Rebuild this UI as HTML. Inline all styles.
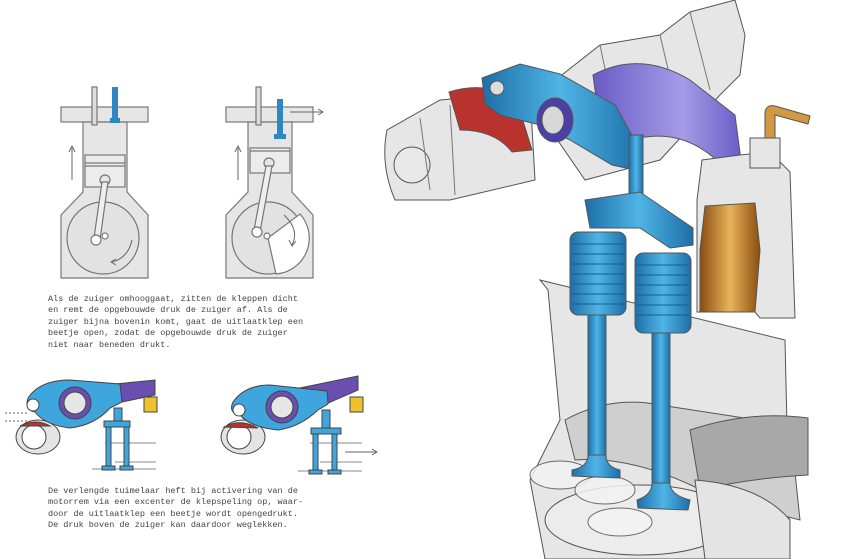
<!DOCTYPE html>
<html><head><meta charset="utf-8"><style>
html,body{margin:0;padding:0;background:#fff;}
body{width:843px;height:559px;overflow:hidden;position:relative;}
.t{position:absolute;font-family:"Liberation Mono",monospace;font-size:8.5px;line-height:11.4px;color:#444;white-space:pre;}
svg{position:absolute;left:0;top:0;}
</style></head><body>
<svg width="843" height="559" viewBox="0 0 843 559" xmlns="http://www.w3.org/2000/svg">
<defs>
<linearGradient id="bl" x1="0" x2="1"><stop offset="0" stop-color="#1d6fa8"/><stop offset=".5" stop-color="#4fb4e6"/><stop offset="1" stop-color="#1d6fa8"/></linearGradient>
<linearGradient id="gd" x1="0" x2="1"><stop offset="0" stop-color="#8a4c10"/><stop offset=".5" stop-color="#e7b45a"/><stop offset="1" stop-color="#8a4c10"/></linearGradient>
<linearGradient id="pp" x1="0" x2="1"><stop offset="0" stop-color="#6a5bc7"/><stop offset=".6" stop-color="#a59be6"/><stop offset="1" stop-color="#6a5bc7"/></linearGradient>
</defs>
<g stroke="#777" stroke-width="1.2" fill="#e6e6e6">
<rect x="61" y="107" width="87" height="15"/>
<path d="M83 122 L127 122 L127 192 L148 215 L148 278 L61 278 L61 215 L83 192 Z"/>
<circle cx="103" cy="238" r="36" fill="#e2e2e2"/>
<rect x="85" y="155" width="40" height="32" fill="#ececec"/>
<line x1="85" y1="163" x2="125" y2="163"/><line x1="85" y1="166" x2="125" y2="166"/>
<circle cx="105" cy="180" r="5"/>
<path d="M102 182 L108 182 L100 240 L94 238 Z" fill="#eee"/>
<circle cx="96" cy="240" r="5" fill="#fff"/><circle cx="105" cy="236" r="3" fill="#fff"/>
<rect x="92" y="87" width="5" height="38" fill="#ddd"/>
</g>
<rect x="112" y="87" width="6" height="33" fill="#2f86c0"/><rect x="110" y="118" width="10" height="5" fill="#2f86c0"/>
<path d="M72 180 V148 M69 152 L72 146 L75 152" stroke="#666" fill="none"/>
<path d="M132 240 Q128 258 112 262 M116 259 L111 262 L116 265" stroke="#666" fill="none"/>
<g stroke="#777" stroke-width="1.2" fill="#e6e6e6">
<rect x="226" y="107" width="87" height="15"/>
<path d="M248 122 L292 122 L292 192 L313 215 L313 278 L226 278 L226 215 L248 192 Z"/>
<circle cx="268" cy="238" r="36" fill="#e2e2e2"/>
<path d="M268 238 L300 214 A36 36 0 0 1 276 274 Z" fill="#fff"/>
<rect x="250" y="148" width="40" height="25" fill="#ececec"/>
<line x1="250" y1="151" x2="290" y2="151"/>
<circle cx="269" cy="163" r="5"/>
<path d="M266 166 L272 166 L260 232 L254 230 Z" fill="#eee"/>
<circle cx="257" cy="232" r="5" fill="#fff"/><circle cx="267" cy="236" r="3" fill="#fff"/>
<rect x="256" y="87" width="5" height="38" fill="#ddd"/>
</g>
<rect x="277" y="99" width="6" height="38" fill="#2f86c0"/><rect x="274" y="134" width="12" height="5" fill="#2f86c0"/>
<path d="M238 180 V148 M235 152 L238 146 L241 152" stroke="#666" fill="none"/>
<path d="M290 112 H322 M318 109 L323 112 L318 115" stroke="#666" fill="none"/>
<path d="M284 215 Q300 230 292 245 M289 240 L292 246 L296 241" stroke="#666" fill="none"/>

<g stroke="#444" stroke-width="1">
<path d="M105 443 H156 M115 462 H156 M92 469 H156" stroke="#888" fill="none"/>
<ellipse cx="38" cy="437" rx="22" ry="17" fill="#e4e4e4"/><circle cx="34" cy="437" r="12" fill="#fff"/>
<path d="M20 426 Q36 418 50 426 Z" fill="#b8322e"/>
<path d="M105 385 L155 380 L155 395 L122 402 Z" fill="#6b4fb0"/>
<path d="M28 398 Q40 380 70 380 L120 384 L122 402 L110 408 Q95 425 70 428 Q45 425 35 412 Q24 410 28 398 Z" fill="#3ea6dc"/>
<circle cx="33" cy="405" r="6" fill="#fff"/>
<circle cx="75" cy="403" r="16" fill="#6b4fb0"/><circle cx="75" cy="403" r="11" fill="#e6e6e6"/>
<rect x="144" y="397" width="13" height="15" fill="#eec22e"/>
<rect x="114" y="408" width="8" height="14" fill="#3ea6dc"/>
<rect x="104" y="421" width="26" height="6" fill="#3ea6dc"/>
<rect x="106" y="427" width="5" height="42" fill="#3ea6dc"/><rect x="124" y="427" width="5" height="42" fill="#3ea6dc"/>
<rect x="102" y="466" width="13" height="4" fill="#3ea6dc"/><rect x="120" y="466" width="13" height="4" fill="#3ea6dc"/>
</g>
<path d="M5 413 H28 M5 421 H28" stroke="#666" stroke-dasharray="2 2"/>
<g stroke="#444" stroke-width="1">
<path d="M310 443 H362 M320 462 H362 M298 471 H362" stroke="#888" fill="none"/>
<ellipse cx="243" cy="437" rx="22" ry="17" fill="#e4e4e4"/><circle cx="239" cy="437" r="12" fill="#fff"/>
<path d="M224 427 Q240 418 258 428 Z" fill="#b8322e"/>
<path d="M290 390 L358 376 L358 390 L326 404 Z" fill="#6b4fb0"/>
<path d="M233 402 Q245 385 270 385 L327 391 L328 404 L318 410 Q300 427 278 430 Q250 427 240 415 Q228 413 233 402 Z" fill="#3ea6dc"/>
<circle cx="239" cy="410" r="6" fill="#fff"/>
<circle cx="282" cy="407" r="16" fill="#6b4fb0"/><circle cx="282" cy="407" r="11" fill="#e6e6e6"/>
<rect x="350" y="397" width="13" height="15" fill="#eec22e"/>
<rect x="322" y="410" width="8" height="18" fill="#3ea6dc"/>
<rect x="311" y="428" width="30" height="6" fill="#3ea6dc"/>
<rect x="313" y="434" width="5" height="38" fill="#3ea6dc"/><rect x="332" y="434" width="5" height="38" fill="#3ea6dc"/>
<rect x="309" y="470" width="13" height="4" fill="#3ea6dc"/><rect x="328" y="470" width="13" height="4" fill="#3ea6dc"/>
</g>
<path d="M345 452 H376 M372 449 L377 452 L372 455" stroke="#666" fill="none"/>

<!-- right illustration -->
<g stroke="#555" stroke-width="1">
<path d="M540 280 L785 340 L790 559 L545 559 L530 480 L560 420 L548 290 Z" fill="#e6e6e6"/>
<path d="M565 420 Q610 395 660 405 L790 425 L800 520 L720 500 Q640 455 575 460 Z" fill="#cfcfcf"/>
<ellipse cx="640" cy="520" rx="95" ry="35" fill="#ececec"/>
<path d="M690 430 Q750 410 808 418 L808 475 Q750 478 700 490 Z" fill="#a8a8a8"/>
<path d="M695 480 Q760 485 790 520 L790 559 L705 559 Z" fill="#e4e4e4"/>
<ellipse cx="560" cy="475" rx="30" ry="14" fill="#f2f2f2" opacity=".85"/>
<ellipse cx="605" cy="490" rx="30" ry="14" fill="#f2f2f2" opacity=".85"/>
<ellipse cx="620" cy="522" rx="32" ry="14" fill="#f4f4f4" opacity=".85"/>
<!-- camshaft top -->
<path d="M530 100 L600 45 L660 35 L690 12 L735 0 L745 35 L740 75 L720 95 L660 160 L585 180 Z" fill="#e6e6e6"/>
<path d="M600 45 L620 140 M660 35 L680 120 M690 12 L710 90" stroke="#777" fill="none"/>
<!-- left cam cylinder -->
<path d="M387 130 L440 100 L530 92 L535 180 L450 200 L395 200 Q380 165 387 130 Z" fill="#e6e6e6"/>
<circle cx="412" cy="165" r="18" fill="#e8e8e8"/>
<path d="M420 118 L430 190 M450 105 L455 195" stroke="#777" fill="none"/>
<path d="M449 92 Q480 82 515 95 L532 150 L512 152 Q495 130 460 130 Z" fill="#b8322e"/>
<!-- purple arm -->
<path d="M593 75 Q640 50 690 80 L735 115 L742 168 L728 172 Q690 128 640 138 L603 148 Z" fill="url(#pp)"/>
<!-- blue rocker -->
<path d="M482 78 L520 64 L560 74 L615 105 L640 150 L635 170 L612 165 L570 140 L540 125 L500 115 L485 104 Z" fill="url(#bl)"/>
<circle cx="497" cy="88" r="7" fill="#ddd"/>
<ellipse cx="555" cy="120" rx="18" ry="22" fill="#4e3ea8"/><ellipse cx="553" cy="120" rx="11" ry="14" fill="#d8d8d8"/>
<rect x="629" y="135" width="14" height="65" fill="url(#bl)"/>
<!-- bridge -->
<path d="M585 200 L640 192 L693 228 L693 245 L670 248 L640 228 L590 228 Z" fill="url(#bl)"/>
<!-- springs -->
<rect x="570" y="232" width="56" height="83" rx="8" fill="url(#bl)"/>
<rect x="635" y="253" width="56" height="80" rx="8" fill="url(#bl)"/>
<g stroke="#155e90"><path d="M572 244H624M572 254H624M572 264H624M572 274H624M572 284H624M572 294H624M572 304H624M637 265H689M637 275H689M637 285H689M637 295H689M637 305H689M637 315H689"/></g>
<!-- stems -->
<rect x="588" y="315" width="18" height="145" fill="url(#bl)"/>
<rect x="652" y="333" width="18" height="155" fill="url(#bl)"/>
<path d="M588 455 Q588 467 572 470 L572 476 L620 478 L620 470 Q606 467 606 455 Z" fill="url(#bl)"/>
<path d="M652 483 Q652 495 637 500 L638 508 L688 510 L690 500 Q670 495 670 483 Z" fill="url(#bl)"/>
<!-- injector -->
<path d="M697 200 L702 160 L740 155 L770 152 L790 172 L795 318 L760 318 L755 312 L697 312 Z" fill="#e6e6e6"/>
<path d="M705 206 L755 203 L760 250 L755 312 L700 312 L700 250 Z" fill="url(#gd)"/>
<path d="M765 140 V112 Q767 104 775 106 L810 116 L808 124 L775 115 V140 Z" fill="#d19a42"/>
<rect x="750" y="138" width="30" height="30" fill="#e6e6e6"/>
</g>
</svg>
<div class="t" style="left:48px;top:294px">Als de zuiger omhooggaat, zitten de kleppen dicht
en remt de opgebouwde druk de zuiger af. Als de
zuiger bijna bovenin komt, gaat de uitlaatklep een
beetje open, zodat de opgebouwde druk de zuiger
niet naar beneden drukt.</div>
<div class="t" style="left:48px;top:486px">De verlengde tuimelaar heft bij activering van de
motorrem via een excenter de klepspeling op, waar-
door de uitlaatklep een beetje wordt opengedrukt.
De druk boven de zuiger kan daardoor weglekken.</div>
</body></html>
